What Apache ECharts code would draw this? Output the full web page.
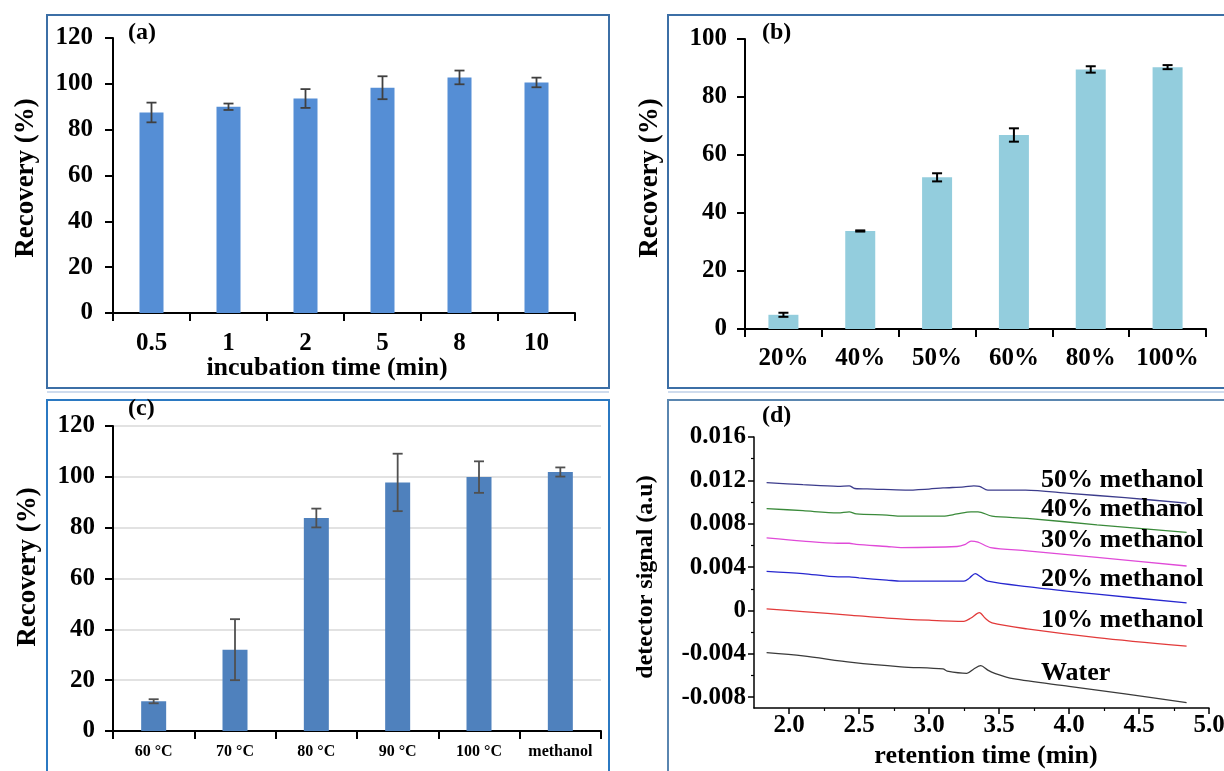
<!DOCTYPE html>
<html>
<head>
<meta charset="utf-8">
<script src="https://cdn.jsdelivr.net/npm/echarts@6/dist/echarts.min.js"></script>
<style>
html,body{margin:0;padding:0;background:#fff;}
#chart{width:1224px;height:771px;}
</style>
</head>
<body>
<div id="chart"></div>
<script>
// ---------- DATA ----------
// (a) incubation time
const aCats = ['0.5', '1', '2', '5', '8', '10'];
const aVals = [87.5, 90.0, 93.6, 98.3, 102.8, 100.6];
const aErrs = [4.3, 1.4, 4.1, 5.0, 3.0, 2.1];
// (b) methanol percentage
const bCats = ['20%', '40%', '50%', '60%', '80%', '100%'];
const bVals = [4.9, 33.8, 52.3, 66.9, 89.5, 90.3];
const bErrs = [0.7, 0.2, 1.4, 2.3, 1.1, 0.7];
// (c) temperature
const cCats = ['60 \u00B0C', '70 \u00B0C', '80 \u00B0C', '90 \u00B0C', '100 \u00B0C', 'methanol'];
const cVals = [11.7, 32.0, 83.8, 97.8, 99.9, 101.9];
const cErrs = [0.8, 12.0, 3.7, 11.3, 6.2, 1.8];
// (d) chromatograms [retention time, signal]
const trace50 = [[1.84,0.0118],[2.1,0.0116],[2.35,0.01145],[2.43,0.0115],[2.47,0.01125],[2.6,0.0112],[2.83,0.0111],[3.0,0.0112],[3.1,0.0113],[3.25,0.0114],[3.32,0.0115],[3.36,0.01145],[3.42,0.0111],[3.55,0.0111],[3.69,0.0111],[4.0,0.0108],[4.4,0.0104],[4.84,0.0099]];
const trace40 = [[1.84,0.0094],[2.1,0.0092],[2.35,0.0090],[2.43,0.0091],[2.48,0.0089],[2.7,0.0088],[2.8,0.0087],[3.1,0.0087],[3.2,0.0089],[3.3,0.0091],[3.35,0.0091],[3.45,0.0087],[3.7,0.0085],[4.2,0.0079],[4.84,0.0072]];
const trace30 = [[1.84,0.0067],[2.1,0.0064],[2.35,0.0062],[2.43,0.0062],[2.48,0.0061],[2.7,0.0059],[2.8,0.0058],[3.2,0.0059],[3.26,0.0061],[3.3,0.0064],[3.35,0.0063],[3.44,0.0058],[3.7,0.0055],[4.2,0.0049],[4.84,0.0041]];
const trace20 = [[1.84,0.0036],[2.1,0.0034],[2.35,0.0031],[2.43,0.0031],[2.5,0.0030],[2.7,0.0028],[2.8,0.0027],[3.25,0.0027],[3.29,0.0030],[3.33,0.0034],[3.37,0.0031],[3.42,0.0027],[3.7,0.0022],[4.2,0.0015],[4.84,0.0007]];
const trace10 = [[1.84,0.00015],[2.1,-0.0001],[2.45,-0.00045],[2.7,-0.0007],[3.0,-0.0009],[3.25,-0.0010],[3.3,-0.0007],[3.36,-0.0002],[3.4,-0.0007],[3.45,-0.00115],[3.7,-0.0017],[4.2,-0.0025],[4.84,-0.0033]];
const traceWater = [[1.84,-0.0039],[2.1,-0.0042],[2.45,-0.0048],[2.8,-0.0052],[3.1,-0.0054],[3.13,-0.0056],[3.27,-0.0058],[3.32,-0.0054],[3.37,-0.0051],[3.42,-0.0055],[3.47,-0.0058],[3.6,-0.0063],[4.0,-0.0070],[4.4,-0.0077],[4.84,-0.0085]];
const traceNames = ['50% methanol', '40% methanol', '30% methanol', '20% methanol', '10% methanol', 'Water'];
const traceLabelX = [3.80, 3.80, 3.80, 3.80, 3.80, 3.80];
const traceLabelY = [0.0120, 0.0093, 0.0065, 0.0029, -0.0009, -0.0058];
const dYTicks = [-0.008, -0.004, 0, 0.004, 0.008, 0.012, 0.016];
const dYMinor = [-0.006, -0.002, 0.002, 0.006, 0.010, 0.014];
const dXTicks = [2.0, 2.5, 3.0, 3.5, 4.0, 4.5, 5.0];
const dXMinor = [2.25, 2.75, 3.25, 3.75, 4.25, 4.75];

// ---------- STYLE ----------
const SERIF = '"Liberation Serif", "DejaVu Serif", serif';
const traces = [trace50, trace40, trace30, trace20, trace10, traceWater];
const traceColors = ['#3c3c8c', '#3a8a3a', '#e04ad8', '#2727cf', '#e23a3a', '#3a3a3a'];

function catX(gi, cats, fs, margin) {
  return {
    type: 'category', gridIndex: gi, data: cats,
    axisLine: { lineStyle: { color: '#000', width: 2 } },
    axisTick: { show: true, length: 8, inside: false, lineStyle: { color: '#000', width: 2 } },
    axisLabel: { fontFamily: SERIF, fontWeight: 'bold', fontSize: fs, color: '#000', margin: margin, interval: 0 }
  };
}
function valY(gi, max, showSplit, margin) {
  return {
    type: 'value', gridIndex: gi, min: 0, max: max, interval: 20,
    axisLine: { show: true, lineStyle: { color: '#000', width: 2 } },
    axisTick: { show: true, length: 8, lineStyle: { color: '#000', width: 2 } },
    axisLabel: { fontFamily: SERIF, fontWeight: 'bold', fontSize: 25, color: '#000', margin: margin },
    splitLine: { show: showSplit, lineStyle: { color: '#d9d9d9', width: 1.5 } }
  };
}
function errSeries(xi, yi, vals, errs, color, lw, half) {
  return {
    type: 'custom', xAxisIndex: xi, yAxisIndex: yi, z: 5, silent: true,
    data: vals.map((v, i) => [i, v, errs[i]]),
    encode: { x: 0, y: 1 },
    renderItem: function (params, api) {
      const i = api.value(0), v = api.value(1), e = api.value(2);
      const top = api.coord([i, v + e]);
      const bot = api.coord([i, v - e]);
      const st = { stroke: color, lineWidth: lw };
      return {
        type: 'group', children: [
          { type: 'line', shape: { x1: top[0], y1: top[1], x2: bot[0], y2: bot[1] }, style: st },
          { type: 'line', shape: { x1: top[0] - half, y1: top[1], x2: top[0] + half, y2: top[1] }, style: st },
          { type: 'line', shape: { x1: bot[0] - half, y1: bot[1], x2: bot[0] + half, y2: bot[1] }, style: st }
        ]
      };
    }
  };
}
function txt(x, y, s, fs, rot, align) {
  return {
    type: 'text', x: x, y: y, rotation: rot || 0,
    style: { text: s, fontFamily: SERIF, fontWeight: 'bold', fontSize: fs, fill: '#000',
      textAlign: align || 'center', textVerticalAlign: 'middle' }
  };
}
function frame(x, y, w, h, color) {
  return { type: 'rect', shape: { x: x, y: y, width: w, height: h }, style: { fill: 'none', stroke: color, lineWidth: 2 } };
}

const dAxisLine = { show: true, onZero: false, lineStyle: { color: '#000', width: 1.5 } };
const option = {
  backgroundColor: '#fff',
  animation: false,
  grid: [
    { left: 113, top: 38, width: 462, height: 275, outerBoundsMode: 'none' },
    { left: 745, top: 39, width: 461, height: 290, outerBoundsMode: 'none' },
    { left: 113, top: 426, width: 488, height: 305, outerBoundsMode: 'none' },
    { left: 754, top: 437, width: 455, height: 271, outerBoundsMode: 'none' }
  ],
  xAxis: [
    catX(0, aCats, 25, 18),
    catX(1, bCats, 25, 17),
    catX(2, cCats, 16, 13),
    { type: 'value', gridIndex: 3, min: 1.75, max: 5.0,
      axisLine: dAxisLine,
      axisTick: { show: true, length: 6, customValues: dXTicks, lineStyle: { color: '#000', width: 1.5 } },
      axisLabel: { customValues: dXTicks, formatter: v => v.toFixed(1), fontFamily: SERIF, fontWeight: 'bold', fontSize: 25, color: '#000', margin: 5 },
      splitLine: { show: false } },
    { type: 'value', gridIndex: 3, min: 1.75, max: 5.0, position: 'bottom',
      axisLine: { show: false, onZero: false },
      axisTick: { show: true, length: 3, customValues: dXMinor, lineStyle: { color: '#000', width: 1.2 } },
      axisLabel: { show: false }, splitLine: { show: false } }
  ],
  yAxis: [
    valY(0, 120, false, 20),
    valY(1, 100, false, 18),
    valY(2, 120, true, 18),
    { type: 'value', gridIndex: 3, min: -0.009, max: 0.016,
      axisLine: dAxisLine,
      axisTick: { show: true, length: 6, customValues: dYTicks, lineStyle: { color: '#000', width: 1.5 } },
      axisLabel: { customValues: dYTicks, formatter: v => (Math.abs(v) < 1e-9 ? '0' : v.toFixed(3)), fontFamily: SERIF, fontWeight: 'bold', fontSize: 25, color: '#000', margin: 8 },
      splitLine: { show: false } },
    { type: 'value', gridIndex: 3, min: -0.009, max: 0.016, position: 'left',
      axisLine: { show: false, onZero: false },
      axisTick: { show: true, length: 3, customValues: dYMinor, lineStyle: { color: '#000', width: 1.2 } },
      axisLabel: { show: false }, splitLine: { show: false } }
  ],
  series: [
    { type: 'bar', xAxisIndex: 0, yAxisIndex: 0, data: aVals, barWidth: 24, itemStyle: { color: '#558ed5' } },
    errSeries(0, 0, aVals, aErrs, '#404040', 1.8, 5),
    { type: 'bar', xAxisIndex: 1, yAxisIndex: 1, data: bVals, barWidth: 30, itemStyle: { color: '#93cddd' } },
    errSeries(1, 1, bVals, bErrs, '#000', 2, 5),
    { type: 'bar', xAxisIndex: 2, yAxisIndex: 2, data: cVals, barWidth: 25, itemStyle: { color: '#4f81bd' } },
    errSeries(2, 2, cVals, cErrs, '#505050', 1.8, 5)
  ].concat(traces.map((tr, k) => ({
    type: 'line', xAxisIndex: 3, yAxisIndex: 3, data: tr, showSymbol: false, symbol: 'none',
    smooth: 0.3, lineStyle: { color: traceColors[k], width: 1.3 },
    markPoint: {
      symbol: 'circle', symbolSize: 0, silent: true,
      data: [{ coord: [traceLabelX[k], traceLabelY[k]] }],
      label: { show: true, position: 'right', distance: 0, formatter: traceNames[k], fontFamily: SERIF, fontWeight: 'bold', fontSize: 26, color: '#000' }
    }
  }))),
  graphic: [
    frame(47, 15, 562, 373, '#3c6fa6'),
    frame(668, 15, 560, 373, '#3c6fa6'),
    { type: 'line', shape: { x1: 47, y1: 392, x2: 609, y2: 392 }, style: { stroke: '#cfdcee', lineWidth: 2 } },
    { type: 'line', shape: { x1: 668, y1: 392, x2: 1224, y2: 392 }, style: { stroke: '#cfdcee', lineWidth: 2 } },
    frame(47, 400, 562, 380, '#2b79c2'),
    frame(668, 400, 560, 380, '#5a86b0'),
    txt(128, 33, '(a)', 24, 0, 'left'),
    txt(762, 33, '(b)', 24, 0, 'left'),
    txt(128, 409, '(c)', 24, 0, 'left'),
    txt(762, 416, '(d)', 24, 0, 'left'),
    txt(26, 178, 'Recovery (%)', 27, Math.PI / 2),
    txt(650, 178, 'Recovery (%)', 27, Math.PI / 2),
    txt(28, 567, 'Recovery (%)', 27, Math.PI / 2),
    txt(646, 577, 'detector signal (a.u)', 24, Math.PI / 2),
    txt(327, 368, 'incubation time (min)', 26),
    txt(986, 756, 'retention time (min)', 26)
  ]
};
const chart = echarts.init(document.getElementById('chart'), null, { renderer: 'canvas' });
chart.setOption(option);
</script>
</body>
</html>
